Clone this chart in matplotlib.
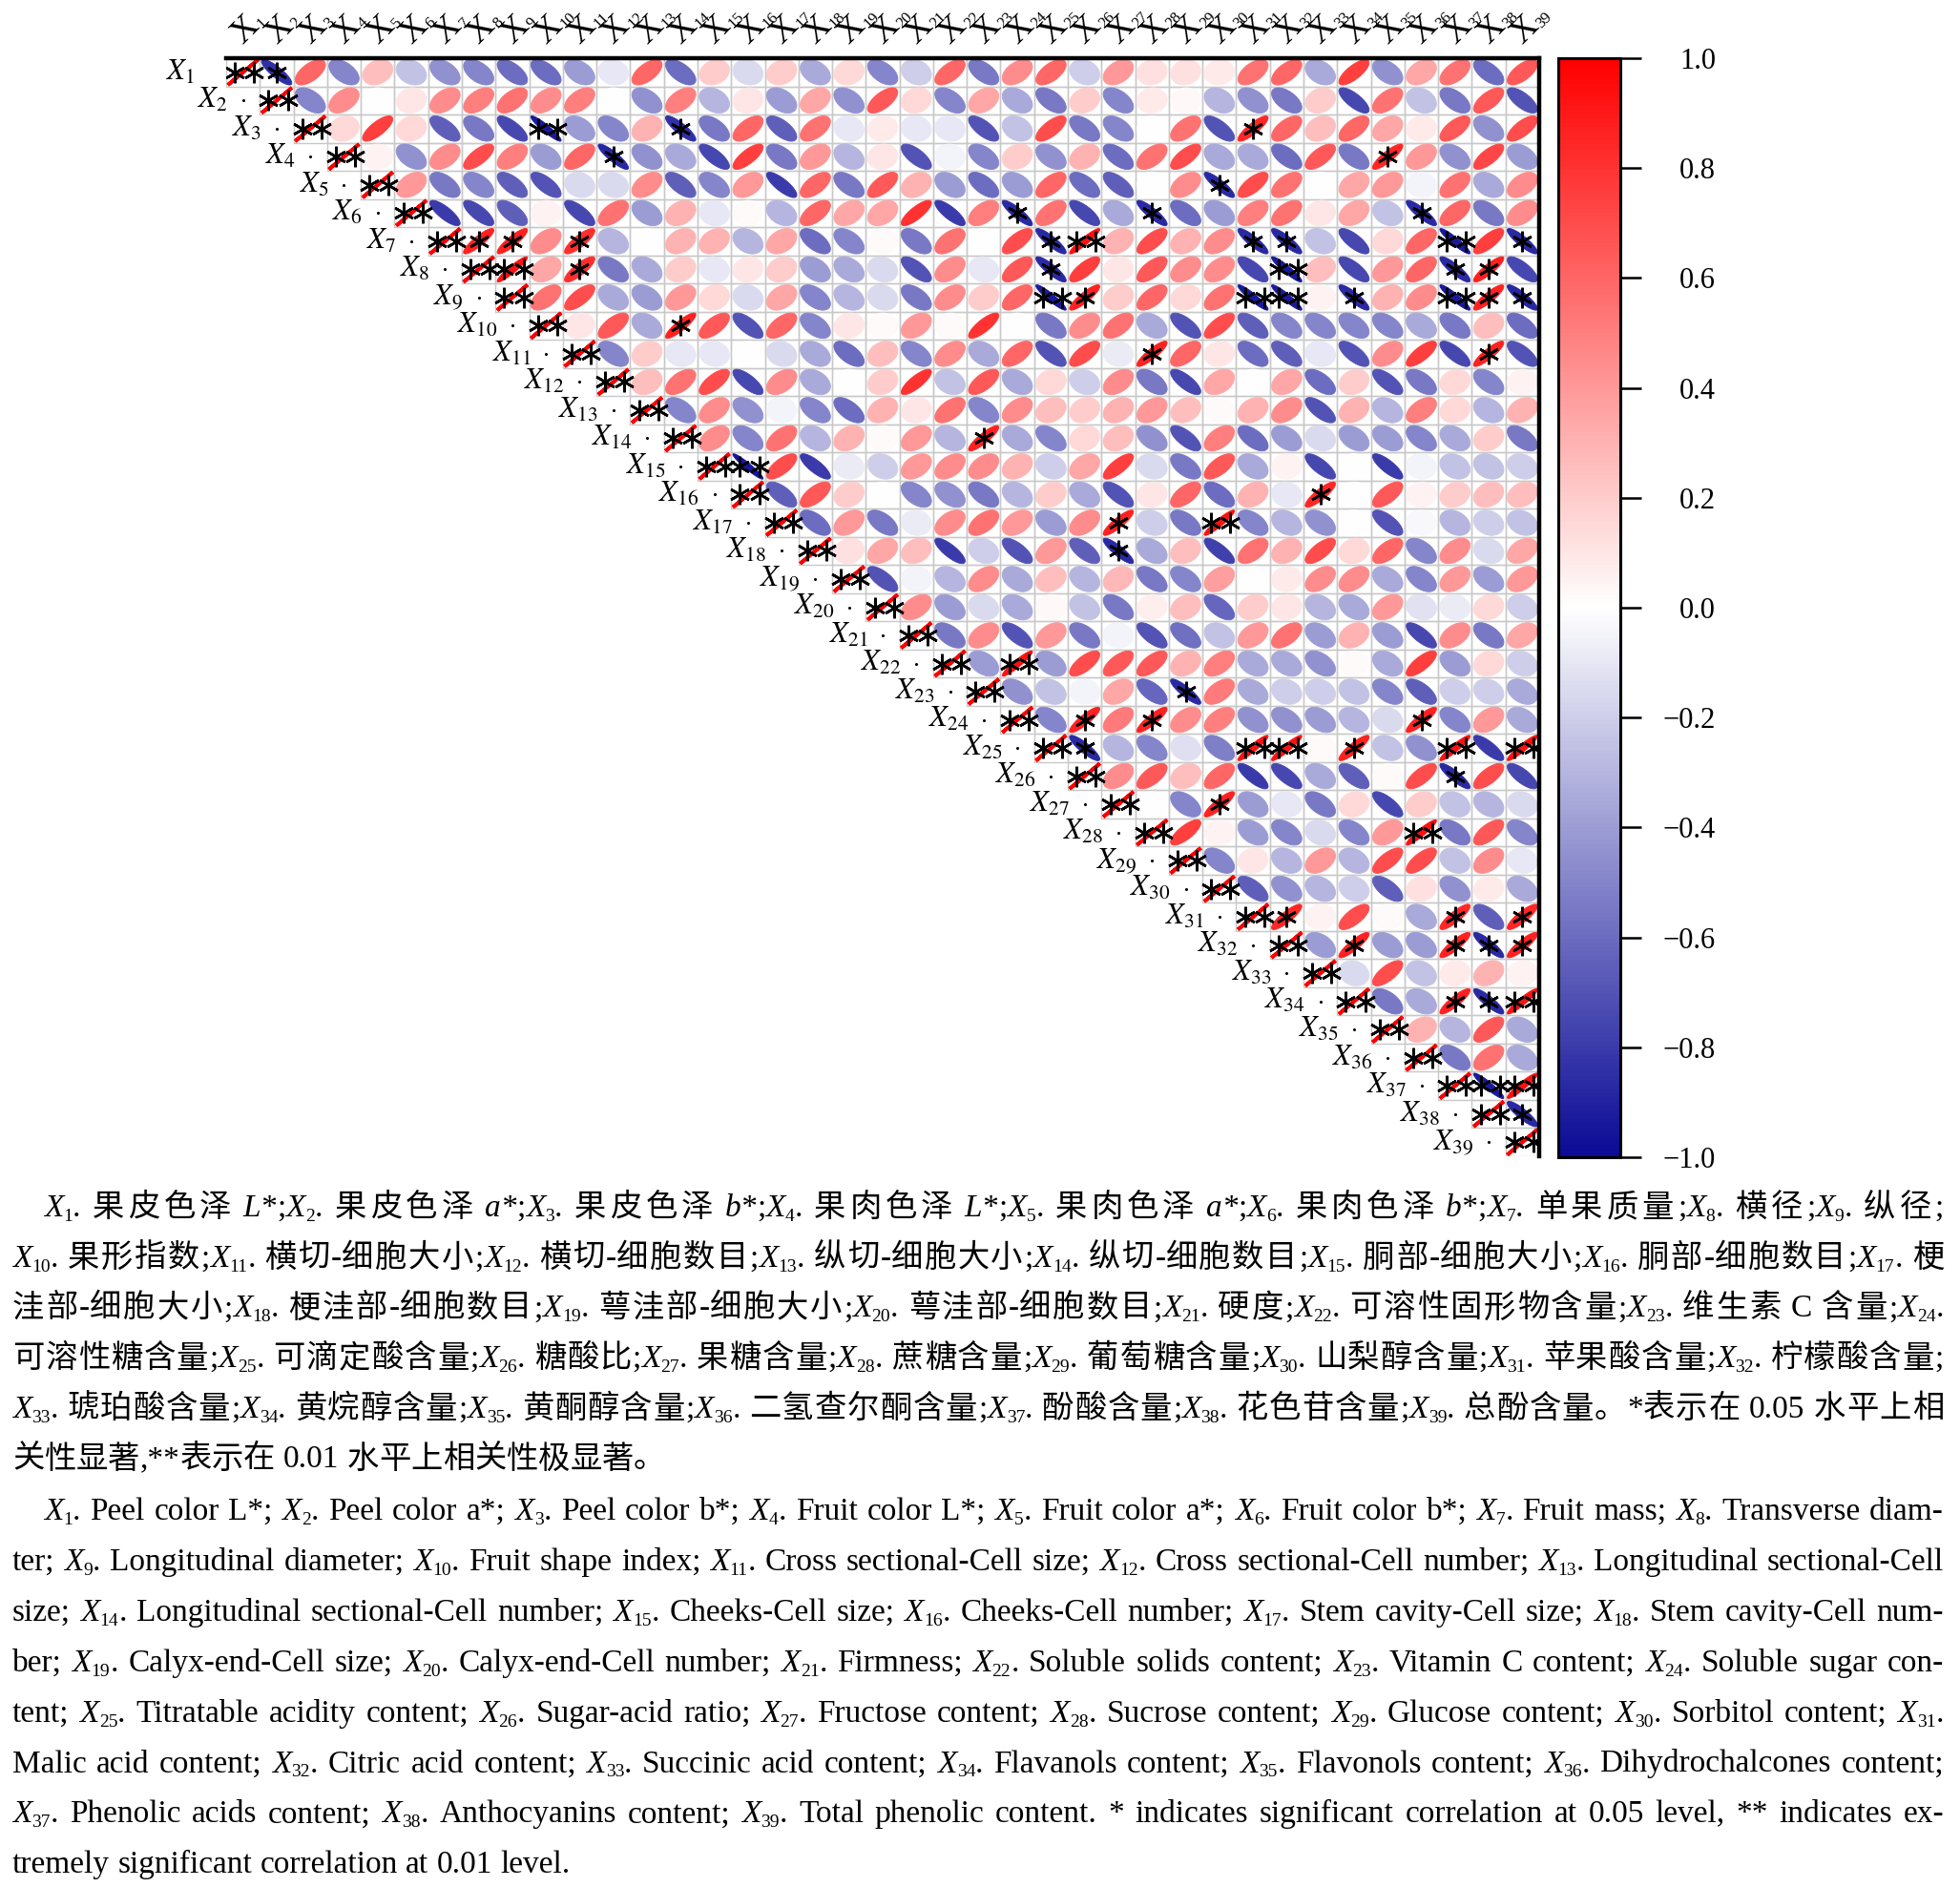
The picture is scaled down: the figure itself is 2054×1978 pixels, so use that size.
import re
import numpy as np
import matplotlib
matplotlib.use('Agg')
import matplotlib.pyplot as plt
from matplotlib.colors import LinearSegmentedColormap, Normalize
from matplotlib.patches import Polygon, Rectangle
from matplotlib.font_manager import FontProperties

plt.rcParams['mathtext.fontset'] = 'stix'
plt.rcParams['font.family'] = ['Liberation Serif', 'Noto Sans CJK SC']

N = 39
row_labels = [f'$X_{{{k}}}$' for k in range(1, N + 1)]
col_numbers = [str(k) for k in range(1, N + 1)]

# upper triangle: row i holds r(Xi, Xj) for j = i+1 .. 39
corr_rows = [
    [-0.85, 0.6, -0.5, 0.25, -0.25, -0.45, -0.5, -0.6, -0.6, -0.4, -0.1, 0.6, -0.6, 0.2, -0.15, 0.2, -0.35, 0.15, -0.5, -0.2, 0.6, -0.55, 0.45, 0.6, -0.2, 0.4, 0.12, 0.12, 0.08, 0.55, 0.6, -0.35, 0.75, -0.45, 0.35, 0.55, -0.6, 0.65],
    [-0.5, 0.45, 0.0, 0.1, 0.45, 0.5, 0.55, 0.45, 0.5, 0.0, -0.45, 0.5, -0.3, 0.1, -0.4, 0.35, -0.45, 0.65, 0.15, -0.5, 0.35, -0.35, -0.55, 0.2, -0.5, 0.08, 0.03, -0.3, -0.45, -0.55, 0.2, -0.75, 0.55, -0.25, -0.55, 0.65, -0.7],
    [0.15, 0.75, 0.15, -0.65, -0.55, -0.75, -0.93, -0.4, -0.5, 0.3, -0.85, -0.55, 0.6, -0.65, 0.55, -0.1, 0.08, -0.1, -0.1, -0.7, -0.25, 0.7, -0.55, -0.5, 0.0, 0.55, -0.7, 0.85, 0.6, 0.25, 0.6, 0.35, 0.08, 0.65, -0.45, 0.7],
    [0.05, -0.45, 0.45, 0.7, 0.5, -0.4, 0.6, -0.88, -0.45, -0.35, -0.75, 0.75, -0.55, 0.4, -0.3, 0.1, -0.7, -0.05, -0.5, 0.2, -0.45, 0.3, -0.6, 0.55, 0.7, -0.35, -0.35, -0.6, 0.65, -0.55, 0.85, 0.4, -0.45, 0.72, -0.4],
    [0.4, -0.55, -0.5, -0.65, -0.7, -0.15, -0.15, 0.45, -0.65, -0.5, 0.4, -0.8, 0.6, -0.55, 0.65, 0.3, -0.4, -0.6, -0.4, 0.6, -0.6, -0.65, 0.0, 0.45, -0.87, 0.7, 0.55, 0.0, 0.35, 0.4, -0.05, 0.55, -0.35, 0.45],
    [-0.8, -0.75, -0.65, 0.05, -0.75, 0.55, -0.4, 0.3, -0.1, 0.02, -0.3, 0.6, 0.35, 0.35, 0.8, -0.8, 0.5, -0.87, 0.55, -0.75, -0.35, -0.87, -0.6, -0.4, 0.5, 0.55, 0.1, 0.35, -0.25, -0.87, 0.6, -0.55, 0.45],
    [0.87, 0.87, 0.45, 0.82, -0.3, 0.0, 0.3, 0.3, -0.3, 0.35, -0.6, -0.5, 0.02, -0.55, 0.55, 0.0, 0.7, -0.87, 0.93, 0.3, 0.7, 0.3, 0.45, -0.87, -0.87, -0.25, -0.75, 0.15, 0.6, -0.93, 0.75, -0.87],
    [0.93, 0.35, 0.82, -0.55, -0.35, 0.2, -0.1, 0.1, 0.2, -0.4, -0.35, -0.15, -0.7, 0.45, -0.1, 0.65, -0.87, 0.75, 0.1, 0.65, 0.45, 0.45, -0.75, -0.93, 0.25, -0.75, 0.4, 0.6, -0.87, 0.87, -0.75],
    [0.55, 0.7, -0.35, -0.4, 0.4, 0.15, -0.15, 0.35, -0.5, -0.3, -0.15, -0.55, 0.45, 0.2, 0.6, -0.93, 0.87, 0.2, 0.6, 0.15, 0.55, -0.93, -0.93, 0.05, -0.87, 0.3, 0.45, -0.93, 0.87, -0.88],
    [0.1, 0.65, -0.35, 0.87, 0.65, -0.7, 0.6, -0.5, 0.1, 0.02, 0.4, 0.02, 0.8, 0.0, -0.55, 0.45, 0.55, -0.35, -0.7, 0.7, -0.65, -0.5, -0.5, -0.5, -0.5, -0.35, -0.55, 0.25, -0.6],
    [-0.5, 0.2, -0.1, -0.1, 0.0, -0.15, -0.35, -0.6, 0.25, -0.5, 0.45, -0.35, 0.6, -0.7, 0.7, -0.08, 0.87, 0.6, 0.1, -0.6, -0.65, -0.1, -0.7, 0.45, 0.75, -0.75, 0.87, -0.7],
    [0.25, 0.55, 0.7, -0.75, 0.45, -0.35, 0.0, 0.2, 0.8, -0.25, 0.65, -0.35, 0.15, -0.2, 0.45, -0.55, -0.75, 0.35, 0.0, 0.35, -0.6, 0.2, -0.7, -0.55, 0.15, -0.5, 0.05],
    [-0.5, 0.45, -0.45, -0.05, -0.5, -0.6, 0.3, 0.1, 0.55, -0.5, 0.45, 0.25, 0.2, 0.3, 0.4, 0.25, 0.02, 0.3, 0.45, -0.7, 0.3, -0.3, 0.5, 0.15, -0.3, 0.3],
    [0.45, -0.5, 0.55, -0.3, 0.3, 0.02, 0.4, -0.3, 0.87, -0.35, -0.5, 0.15, 0.25, -0.45, -0.7, 0.5, -0.6, -0.4, -0.15, -0.4, -0.4, -0.5, -0.35, 0.2, -0.55],
    [-0.95, 0.7, -0.8, -0.08, -0.2, 0.4, 0.45, 0.45, 0.3, -0.2, 0.35, 0.75, -0.15, -0.55, 0.65, -0.35, 0.05, -0.75, 0.0, -0.8, -0.05, -0.25, -0.25, -0.2],
    [-0.65, 0.65, 0.2, 0.0, -0.5, -0.45, -0.55, -0.3, 0.2, -0.35, -0.7, 0.1, 0.6, -0.6, 0.3, -0.1, 0.85, 0.0, 0.65, 0.05, 0.2, 0.25, 0.25],
    [-0.6, 0.4, -0.55, -0.08, 0.45, 0.55, 0.4, -0.4, 0.45, 0.87, -0.2, -0.55, 0.93, -0.5, -0.3, -0.45, 0.0, -0.7, -0.03, -0.3, -0.2, -0.25],
    [0.12, 0.35, 0.25, -0.8, -0.2, -0.7, 0.4, -0.65, -0.87, -0.35, 0.25, -0.78, 0.55, 0.3, 0.7, 0.15, 0.6, -0.5, 0.45, -0.15, 0.35],
    [-0.7, -0.05, -0.3, 0.45, -0.35, 0.25, -0.3, 0.28, -0.55, -0.5, 0.38, 0.0, 0.08, 0.45, 0.45, -0.35, -0.5, 0.4, -0.4, 0.4],
    [0.45, -0.4, -0.15, -0.35, 0.03, -0.25, -0.55, 0.07, 0.25, -0.62, 0.2, 0.1, -0.3, -0.35, 0.4, -0.12, -0.08, 0.15, -0.2],
    [-0.55, 0.45, -0.7, 0.4, -0.55, -0.05, -0.7, -0.58, -0.25, 0.4, 0.55, -0.4, 0.3, -0.4, -0.75, 0.45, -0.55, 0.35],
    [-0.4, 0.93, -0.4, 0.7, 0.65, 0.65, 0.3, 0.5, -0.35, -0.35, -0.45, 0.02, -0.35, 0.75, -0.4, 0.15, -0.2],
    [-0.45, -0.25, -0.05, 0.35, -0.62, -0.87, 0.52, -0.35, -0.2, -0.2, -0.25, -0.5, -0.65, -0.2, -0.2, -0.35],
    [-0.5, 0.87, 0.52, 0.87, 0.45, 0.5, -0.45, -0.45, -0.4, -0.3, -0.15, 0.87, -0.5, 0.4, -0.35],
    [-0.87, -0.3, -0.5, -0.13, -0.52, 0.93, 0.93, 0.02, 0.87, -0.25, -0.45, 0.93, -0.8, 0.93],
    [0.45, 0.65, 0.25, 0.6, -0.8, -0.75, -0.35, -0.65, 0.02, 0.7, -0.87, 0.7, -0.75],
    [0.0, -0.5, 0.87, -0.4, -0.1, -0.55, 0.15, -0.75, 0.2, -0.25, -0.3, -0.15],
    [0.75, 0.05, -0.4, -0.5, -0.15, -0.5, 0.4, 0.93, -0.55, 0.65, -0.5],
    [-0.5, 0.1, -0.3, 0.4, -0.3, 0.7, 0.7, -0.25, 0.45, -0.1],
    [-0.65, -0.45, -0.3, -0.2, -0.65, 0.12, -0.45, 0.08, -0.35],
    [0.85, 0.05, 0.7, 0.02, -0.35, 0.85, -0.65, 0.85],
    [-0.4, 0.87, -0.4, -0.4, 0.87, -0.87, 0.87],
    [-0.15, 0.7, -0.25, 0.08, 0.3, 0.05],
    [-0.55, -0.35, 0.87, -0.87, 0.93],
    [0.3, -0.3, 0.65, -0.35],
    [-0.55, 0.55, -0.35],
    [-0.93, 0.93],
    [-0.87],
]

R05 = 0.811   # critical |r|, p = 0.05
R01 = 0.917   # critical |r|, p = 0.01

cb_ticks = [-1.0, -0.8, -0.6, -0.4, -0.2, 0.0, 0.2, 0.4, 0.6, 0.8, 1.0]

cn_lines = [
    "{X1}. 果皮色泽 {i:L*};{X2}. 果皮色泽 {i:a*};{X3}. 果皮色泽 {i:b*};{X4}. 果肉色泽 {i:L*};{X5}. 果肉色泽 {i:a*};{X6}. 果肉色泽 {i:b*};{X7}. 单果质量;{X8}. 横径;{X9}. 纵径;",
    "{X10}. 果形指数;{X11}. 横切-细胞大小;{X12}. 横切-细胞数目;{X13}. 纵切-细胞大小;{X14}. 纵切-细胞数目;{X15}. 胴部-细胞大小;{X16}. 胴部-细胞数目;{X17}. 梗",
    "洼部-细胞大小;{X18}. 梗洼部-细胞数目;{X19}. 萼洼部-细胞大小;{X20}. 萼洼部-细胞数目;{X21}. 硬度;{X22}. 可溶性固形物含量;{X23}. 维生素 C 含量;{X24}.",
    "可溶性糖含量;{X25}. 可滴定酸含量;{X26}. 糖酸比;{X27}. 果糖含量;{X28}. 蔗糖含量;{X29}. 葡萄糖含量;{X30}. 山梨醇含量;{X31}. 苹果酸含量;{X32}. 柠檬酸含量;",
    "{X33}. 琥珀酸含量;{X34}. 黄烷醇含量;{X35}. 黄酮醇含量;{X36}. 二氢查尔酮含量;{X37}. 酚酸含量;{X38}. 花色苷含量;{X39}. 总酚含量。*表示在 0.05 水平上相",
    "关性显著,**表示在 0.01 水平上相关性极显著。",
]

en_lines = [
    "{X1}. Peel color L*; {X2}. Peel color a*; {X3}. Peel color b*; {X4}. Fruit color L*; {X5}. Fruit color a*; {X6}. Fruit color b*; {X7}. Fruit mass; {X8}. Transverse diam-",
    "ter; {X9}. Longitudinal diameter; {X10}. Fruit shape index; {X11}. Cross sectional-Cell size; {X12}. Cross sectional-Cell number; {X13}. Longitudinal sectional-Cell",
    "size; {X14}. Longitudinal sectional-Cell number; {X15}. Cheeks-Cell size; {X16}. Cheeks-Cell number; {X17}. Stem cavity-Cell size; {X18}. Stem cavity-Cell num-",
    "ber; {X19}. Calyx-end-Cell size; {X20}. Calyx-end-Cell number; {X21}. Firmness; {X22}. Soluble solids content; {X23}. Vitamin C content; {X24}. Soluble sugar con-",
    "tent; {X25}. Titratable acidity content; {X26}. Sugar-acid ratio; {X27}. Fructose content; {X28}. Sucrose content; {X29}. Glucose content; {X30}. Sorbitol content; {X31}.",
    "Malic acid content; {X32}. Citric acid content; {X33}. Succinic acid content; {X34}. Flavanols content; {X35}. Flavonols content; {X36}. Dihydrochalcones content;",
    "{X37}. Phenolic acids content; {X38}. Anthocyanins content; {X39}. Total phenolic content. * indicates significant correlation at 0.05 level, ** indicates ex-",
    "tremely significant correlation at 0.01 level.",
]

# ---------------------------------------------------------
# matrix
# ---------------------------------------------------------
corr = np.eye(N)
for i, row in enumerate(corr_rows):
    assert len(row) == N - 1 - i, (i, len(row))
    corr[i, i + 1:] = row

W, H, DPI = 2054, 1978, 100
fig = plt.figure(figsize=(W / DPI, H / DPI), dpi=DPI, facecolor='white')


def fx(px):
    return px / W


def fy(py):
    return 1 - py / H


ax = fig.add_axes([fx(237), fy(1212), fx(1613) - fx(237), fy(61) - fy(1212)])
ax.set_xlim(0.5, N + 0.5)
ax.set_ylim(N + 0.5, 0.5)
ax.axis('off')

cmap = LinearSegmentedColormap.from_list('bwr_dark', ['#0A0A96', '#FFFFFF', '#FF0000'])
norm = Normalize(-1, 1)
t = np.linspace(0, 2 * np.pi, 90)
S = 0.45
star_x, star_y = [], []
for i in range(N):
    for j in range(i, N):
        r = corr[i, j]
        cx, cy = j + 1, i + 1
        ax.add_patch(Rectangle((cx - 0.5, cy - 0.5), 1, 1, fc='none',
                               ec='#C8C8C8', lw=1.0, zorder=1))
        # corrplot-style ellipse
        d = np.arccos(np.clip(r, -1, 1))
        ex = cx + S * np.cos(t + d / 2)
        ey = cy - S * np.cos(t - d / 2)
        col = cmap(norm(r))
        ax.add_patch(Polygon(np.column_stack([ex, ey]), closed=True, fc=col, ec=col,
                             lw=2.8 if i == j else 0.6, zorder=2))
        if abs(r) >= R01:
            star_x += [cx - 0.24, cx + 0.33]
            star_y += [cy, cy]
        elif abs(r) >= R05:
            star_x.append(cx)
            star_y.append(cy)

ax.plot(star_x, star_y, ls='none', marker=(6, 2, 0), ms=15.5, mew=1.9,
        color='black', zorder=4)

# thick top / right border
ax.plot([0.5, N + 0.5], [0.5, 0.5], color='black', lw=3.2, clip_on=False, zorder=5)
ax.plot([N + 0.5, N + 0.5], [0.5, N + 0.5], color='black', lw=3.2, clip_on=False, zorder=5)

# column labels: rotated X with a small index, row labels: italic X_k
col_y = 0.5 - 14 / 29.5
for k in range(1, N + 1):
    ax.text(k, col_y, 'X', rotation=45, rotation_mode='anchor', ha='left',
            va='baseline', fontsize=26, clip_on=False)
    ax.annotate(col_numbers[k - 1], xy=(k, col_y), xytext=(14.6, 12.0),
                textcoords='offset points', rotation=45, rotation_mode='anchor',
                ha='left', va='baseline', fontsize=12, annotation_clip=False)
    ax.text(k - 1.45, k, row_labels[k - 1], ha='right', va='center',
            fontsize=22, clip_on=False)
ax.plot(np.arange(1, N), np.arange(2, N + 1), ls='none', marker='o', ms=1.2,
        color='black', clip_on=False)

# colorbar
cax = fig.add_axes([fx(1633), fy(1213), fx(1698) - fx(1633), fy(61) - fy(1213)])
sm = matplotlib.cm.ScalarMappable(norm=norm, cmap=cmap)
cb = fig.colorbar(sm, cax=cax, ticks=cb_ticks)
cb.ax.set_yticklabels([f'{v:.1f}'.replace('-', '\u2212') for v in cb_ticks])
cb.outline.set_linewidth(2.2)
cb.ax.tick_params(length=16, width=1.8, direction='out', pad=56, labelsize=22)
for tl in cb.ax.get_yticklabels():
    tl.set_ha('right')

# ---------------------------------------------------------
# caption (manual run layout, justified)
# ---------------------------------------------------------
renderer = fig.canvas.get_renderer()
PROPS = {
    'rm': FontProperties(family=['Liberation Serif', 'Noto Sans CJK SC'], size=24),
    'cjk': FontProperties(family=['Noto Sans CJK SC', 'Liberation Serif'], weight='light', size=24),
    'it': FontProperties(family=['Liberation Serif', 'Noto Sans CJK SC'], style='italic', size=24),
    'sub': FontProperties(family=['Liberation Serif'], size=14),
}
TOKEN = re.compile(r'(\{X\d+\}|\{i:[^}]*\})')


def text_w(s, kind):
    return renderer.get_text_width_height_descent(s, PROPS[kind], ismath=False)[0]


def advance(s, kind):
    return text_w('|' + s + '|', kind) - text_w('||', kind)


SPACE_W = advance(' ', 'rm')


def is_cjk(ch):
    return ord(ch) >= 0x2E80


def line_pieces(line):
    pieces = []

    def add_gap(w):
        if pieces and pieces[-1][1] == 'gap':
            pieces[-1] = (None, 'gap', pieces[-1][2] + w)
        else:
            pieces.append((None, 'gap', w))

    def add_text(s, kind):
        pieces.append((s, kind, advance(s, kind)))

    for tok in TOKEN.split(line):
        if not tok:
            continue
        if tok.startswith('{X'):
            add_text('X', 'it')
            add_text(tok[2:-1], 'sub')
        elif tok.startswith('{i:'):
            add_text(tok[3:-1], 'it')
        else:
            buf = ''
            for ch in tok:
                if ch == ' ' or is_cjk(ch):
                    if buf:
                        add_text(buf, 'rm')
                        buf = ''
                    if ch == ' ':
                        add_gap(SPACE_W)
                    else:
                        add_text(ch, 'cjk')
                        add_gap(0.0)
                else:
                    buf += ch
            if buf:
                add_text(buf, 'rm')
    while pieces and pieces[-1][1] == 'gap':
        pieces.pop()
    return pieces


def draw_line(line, x_left, x_right, baseline, justify):
    pieces = line_pieces(line)
    natural = sum(p[2] for p in pieces)
    n_gaps = sum(1 for p in pieces if p[1] == 'gap')
    extra = (x_right - x_left - natural) / n_gaps if (justify and n_gaps) else 0.0
    pen = x_left
    for s, kind, w in pieces:
        if kind == 'gap':
            pen += w + extra
            continue
        y = baseline + (5 if kind == 'sub' else 0)
        fig.text(fx(pen), fy(y), s, fontproperties=PROPS[kind], ha='left', va='baseline')
        pen += w


def draw_paragraph(lines, top_baseline, spacing):
    for k, line in enumerate(lines):
        x_left = 46 if k == 0 else 13
        draw_line(line, x_left, 2037, top_baseline + k * spacing, k < len(lines) - 1)


draw_paragraph(cn_lines, 1275, 52.7)
draw_paragraph(en_lines, 1593, 52.9)

fig.savefig('out.png', dpi=DPI, facecolor='white')
